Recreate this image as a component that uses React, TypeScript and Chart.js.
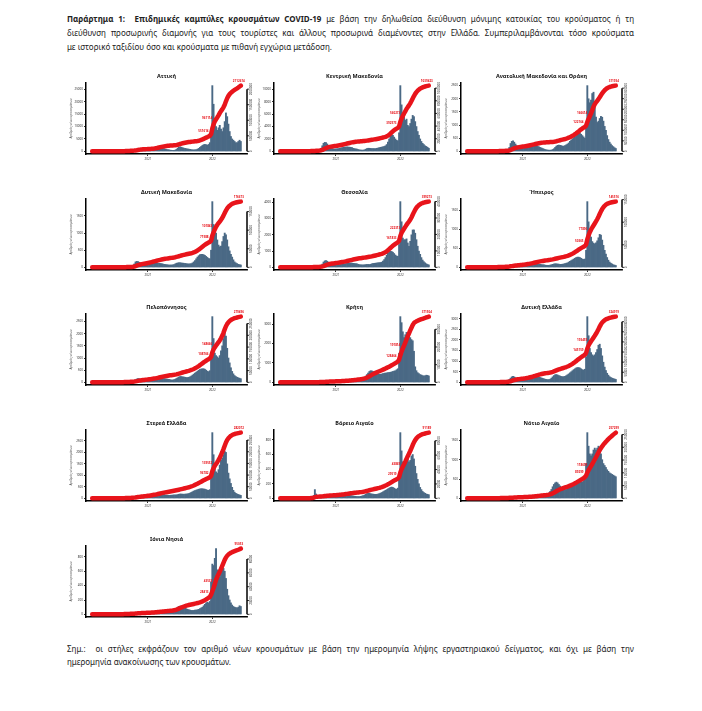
import React, { useEffect, useRef } from 'react';
import { Chart, registerables } from 'chart.js';
Chart.register(...registerables);

// weekly samples of daily new cases, first week = 2020-02-24 (index 0)
const yearTicks = [
  { week: 45, label: '2021' },
  { week: 97, label: '2022' },
];
const labelWeeks = [96, 99, 120];

const attiki = [
  0, 5, 20, 40, 50, 40, 30, 15, 10, 5,
  3, 3, 3, 5, 5, 5, 8, 10, 15, 20,
  30, 50, 80, 120, 150, 180, 200, 200, 220, 250,
  280, 300, 350, 400, 500, 700,
  900, 1100, 1000, 800, 600, 500, 450, 350, 300,
  300, 350, 400, 450, 550,
  700, 900, 1100, 1300, 1400,
  1500, 1400, 1300, 1100, 900,
  800, 700, 600, 500, 450,
  400, 400, 500, 800, 1300,
  1700, 1800, 1700, 1500, 1300,
  1200, 1100, 1000, 900, 800,
  700, 650, 600, 650, 700,
  900, 1200, 1600, 2000, 2400,
  2700, 2800, 2700, 2500, 2800, 3500, 7000,
  26500, 19000, 13000, 10000, 8500, 9500, 10500, 9000,
  8000, 9500, 12000, 15500, 14000, 11000,
  8000, 6000, 5000, 4500, 4000,
  3500, 3500, 4000, 4500, 4000,
];
const kentrikiMakedonia = [
  0, 2, 10, 25, 30, 25, 15, 10, 5, 5,
  3, 3, 3, 5, 5, 5, 8, 10, 15, 20,
  25, 40, 60, 80, 100, 110, 120, 120, 130, 150,
  180, 220, 300, 500, 900, 1300,
  1450, 1400, 1200, 900, 700, 550, 450, 400, 380,
  400, 420, 450, 500, 550,
  600, 650, 700, 700, 720,
  700, 680, 650, 600, 500,
  450, 400, 350, 300, 250,
  220, 200, 200, 250, 350,
  450, 500, 500, 480, 450,
  450, 450, 450, 500, 550,
  600, 650, 700, 750, 800,
  900, 1100, 1500, 2000, 2500,
  2700, 2600, 2300, 2000, 1800, 1700, 3000,
  10600, 7500, 5800, 5500, 5000, 5200, 4200, 4000,
  4500, 5200, 5800, 5600, 4800, 4000,
  3200, 2600, 2000, 1600, 1300,
  1100, 900, 800, 650, 500,
];
const anatolikiMakedoniaThraki = [
  0, 0, 2, 5, 5, 4, 3, 2, 1, 1,
  1, 1, 1, 1, 1, 2, 3, 4, 5, 8,
  10, 12, 15, 20, 25, 25, 25, 25, 30, 30,
  35, 40, 50, 80, 150, 300,
  380, 400, 350, 280, 220, 180, 150, 130, 120,
  120, 130, 140, 150, 160,
  170, 180, 190, 200, 200,
  210, 200, 190, 170, 150,
  130, 110, 90, 70, 60,
  50, 45, 45, 50, 70,
  100, 150, 200, 230, 240,
  230, 220, 200, 200, 220,
  250, 280, 320, 380, 430,
  480, 520, 560, 600, 650,
  680, 700, 650, 600, 550, 500, 900,
  2500, 2000, 1850, 1950, 2200, 2250, 1700, 1300,
  1100, 1150, 1250, 1330, 1300, 1150,
  950, 800, 600, 450, 350,
  280, 220, 180, 140, 110,
];
const dytikiMakedonia = [
  0, 0, 1, 2, 2, 2, 1, 1, 1, 0,
  0, 0, 0, 0, 0, 1, 1, 2, 2, 3,
  3, 4, 5, 6, 8, 10, 12, 14, 15, 15,
  18, 20, 30, 50, 100, 160,
  175, 170, 150, 130, 110, 100, 95, 90, 90,
  95, 100, 110, 120, 125,
  130, 130, 125, 125, 120,
  115, 110, 100, 90, 85,
  80, 75, 70, 70, 70,
  75, 80, 100, 120, 130,
  135, 135, 130, 125, 120,
  115, 110, 105, 100, 100,
  110, 130, 160, 200, 250,
  300, 340, 370, 380, 380,
  370, 350, 320, 290, 260, 250, 500,
  1915, 1250, 1100, 1000, 800, 650, 600, 620,
  750, 900, 1000, 950, 800, 600,
  480, 380, 300, 220, 160,
  130, 110, 90, 80, 70,
];
const thessalia = [
  0, 0, 3, 8, 10, 8, 5, 3, 2, 1,
  1, 1, 1, 1, 2, 2, 3, 4, 5, 6,
  8, 10, 15, 20, 25, 30, 30, 30, 35, 40,
  50, 60, 80, 120, 200, 330,
  400, 410, 380, 320, 250, 200, 170, 160, 150,
  150, 155, 160, 170, 180,
  190, 200, 210, 230, 250,
  260, 270, 270, 260, 250,
  240, 230, 210, 190, 170,
  160, 150, 150, 160, 170,
  180, 180, 175, 190, 220,
  240, 250, 260, 270, 280,
  290, 300, 320, 380, 480,
  600, 750, 880, 960, 990,
  980, 930, 850, 760, 700, 680, 1400,
  4040, 2800, 1800, 1700, 1700, 1750, 1500, 1300,
  1600, 2000, 2300, 2300, 2100, 1700,
  1300, 1000, 800, 600, 450,
  350, 280, 220, 180, 150,
];
const ipeiros = [
  0, 0, 2, 5, 6, 5, 3, 2, 1, 1,
  0, 0, 0, 0, 1, 1, 1, 2, 2, 3,
  4, 5, 6, 8, 10, 12, 12, 12, 14, 15,
  18, 20, 25, 35, 45, 55,
  60, 62, 58, 50, 45, 42, 40, 40, 42,
  45, 50, 55, 60, 65,
  70, 75, 80, 85, 90,
  95, 95, 90, 85, 80,
  75, 70, 65, 60, 55,
  55, 55, 60, 70, 80,
  90, 95, 95, 90, 85,
  80, 80, 85, 90, 100,
  110, 120, 140, 160, 180,
  200, 220, 240, 260, 270,
  270, 260, 240, 220, 210, 220, 450,
  1733, 1200, 1000, 800, 680, 640, 620, 650,
  700, 780, 870, 850, 720, 580,
  450, 350, 260, 190, 140,
  110, 90, 70, 60, 50,
];
const peloponnisos = [
  0, 1, 5, 8, 8, 6, 4, 3, 2, 1,
  1, 1, 1, 1, 1, 2, 3, 4, 5, 6,
  8, 10, 12, 15, 18, 20, 22, 22, 25, 28,
  30, 35, 45, 60, 80, 110,
  140, 160, 150, 130, 110, 100, 90, 90, 90,
  90, 95, 100, 110, 120,
  130, 140, 150, 160, 170,
  180, 180, 170, 160, 150,
  140, 130, 120, 110, 100,
  100, 110, 130, 160, 190,
  220, 240, 240, 230, 220,
  210, 200, 200, 210, 230,
  260, 300, 340, 380, 420,
  460, 500, 530, 550, 560,
  560, 540, 500, 460, 440, 480, 1000,
  2700, 1800, 1200, 1100, 1050, 1000, 1100, 1300,
  1500, 1800, 2100, 1900, 1400, 1000,
  800, 600, 450, 350, 280,
  240, 210, 190, 170, 150,
];
const kriti = [
  0, 0, 2, 5, 5, 3, 2, 1, 1, 0,
  0, 0, 0, 0, 0, 1, 1, 2, 3, 4,
  5, 6, 8, 10, 12, 14, 15, 15, 16, 18,
  20, 22, 25, 30, 40, 50,
  60, 65, 60, 55, 50, 45, 40, 38, 35,
  35, 38, 40, 45, 50,
  55, 60, 65, 70, 75,
  80, 85, 90, 95, 100,
  105, 110, 120, 130, 140,
  150, 170, 200, 250, 320,
  400, 480, 560, 600, 590,
  560, 520, 480, 450, 430,
  420, 420, 430, 450, 470,
  480, 490, 500, 510, 520,
  540, 560, 580, 600, 650, 700, 1500,
  3380, 3070, 2600, 2300, 2450, 2570, 2500, 2400,
  2300, 2200, 2140, 1600, 800, 600,
  500, 450, 400, 380, 350,
  330, 340, 370, 360, 330,
];
const dytikiEllada = [
  0, 1, 4, 8, 8, 6, 4, 2, 1, 1,
  0, 0, 0, 1, 1, 1, 2, 3, 4, 5,
  6, 8, 10, 14, 18, 22, 24, 25, 28, 30,
  35, 45, 60, 90, 140, 200,
  260, 280, 260, 220, 180, 150, 130, 120, 110,
  110, 120, 130, 150, 170,
  190, 210, 230, 250, 270,
  280, 280, 270, 250, 230,
  210, 190, 170, 150, 140,
  130, 130, 150, 200, 260,
  320, 360, 370, 350, 320,
  300, 280, 270, 270, 290,
  320, 360, 400, 450, 500,
  550, 600, 640, 680, 700,
  700, 680, 640, 600, 580, 620, 1200,
  3100, 2200, 1600, 1400, 1300, 1250, 1300, 1400,
  1550, 1750, 1800, 1600, 1250, 950,
  720, 560, 430, 340, 270,
  230, 200, 180, 160, 140,
];
const stereaEllada = [
  0, 1, 3, 6, 6, 5, 3, 2, 1, 1,
  0, 0, 0, 1, 1, 1, 2, 3, 4, 5,
  6, 8, 10, 12, 15, 18, 20, 20, 22, 25,
  30, 35, 45, 60, 80, 100,
  120, 130, 120, 105, 95, 90, 85, 85, 90,
  95, 100, 110, 120, 130,
  140, 150, 160, 170, 180,
  180, 175, 170, 160, 150,
  140, 135, 130, 135, 140,
  145, 150, 150, 155, 165,
  180, 190, 190, 185, 180,
  185, 190, 200, 210, 230,
  260, 290, 320, 340, 360,
  380, 400, 410, 420, 420,
  410, 400, 380, 360, 350, 380, 900,
  2860, 1900, 1350, 1150, 1100, 1250, 1450, 1650,
  1750, 1900, 2050, 2000, 1500, 1100,
  850, 650, 480, 350, 270,
  220, 190, 170, 150, 130,
];
const voreioAigaio = [
  0, 0, 1, 2, 2, 1, 1, 0, 0, 0,
  0, 0, 0, 0, 0, 0, 1, 1, 1, 2,
  3, 4, 5, 6, 10, 15, 20, 40, 120, 60,
  30, 20, 15, 15, 20, 25,
  30, 35, 30, 25, 20, 18, 16, 15, 15,
  16, 18, 20, 22, 25,
  28, 30, 32, 35, 38,
  40, 40, 38, 35, 32,
  30, 28, 26, 25, 25,
  28, 32, 38, 45, 55,
  65, 70, 70, 65, 60,
  58, 56, 55, 56, 60,
  65, 72, 80, 90, 100,
  110, 120, 130, 140, 150,
  155, 150, 140, 130, 125, 140, 300,
  900, 650, 500, 480, 520, 560, 540, 500,
  520, 580, 600, 540, 440, 340,
  260, 200, 150, 120, 95,
  80, 70, 60, 55, 50,
];
const notioAigaio = [
  0, 0, 2, 4, 4, 3, 2, 1, 1, 0,
  0, 0, 0, 0, 0, 1, 1, 2, 3, 4,
  6, 8, 12, 16, 20, 22, 20, 18, 16, 15,
  15, 16, 18, 22, 28, 35,
  45, 50, 48, 42, 36, 30, 28, 26, 25,
  25, 28, 30, 34, 38,
  42, 48, 55, 62, 70,
  75, 80, 82, 80, 76,
  72, 70, 70, 75, 90,
  110, 140, 180, 230, 300,
  360, 400, 420, 400, 360,
  320, 290, 260, 240, 230,
  230, 240, 260, 280, 300,
  320, 340, 360, 380, 400,
  410, 420, 420, 430, 460, 520, 900,
  1700, 1350, 1150, 1100, 1150, 1250, 1300, 1250,
  1300, 1350, 1300, 1150, 1000, 900,
  850, 800, 740, 700, 660,
  640, 620, 600, 580, 560,
];
const ioniaNisia = [
  0, 0, 1, 2, 2, 1, 1, 0, 0, 0,
  0, 0, 0, 0, 0, 0, 1, 1, 1, 2,
  3, 4, 5, 6, 8, 10, 10, 10, 10, 10,
  10, 10, 12, 14, 16, 18,
  20, 22, 20, 18, 16, 14, 12, 12, 12,
  12, 13, 14, 15, 16,
  18, 20, 22, 24, 26,
  28, 30, 30, 28, 26,
  24, 22, 22, 24, 28,
  35, 45, 60, 80, 100,
  110, 115, 115, 110, 100,
  90, 80, 70, 65, 60,
  55, 55, 55, 58, 60,
  65, 70, 80, 90, 100,
  120, 140, 160, 170, 160, 180, 450,
  700, 680, 780, 915, 620, 540, 520, 580,
  620, 640, 600, 500, 350, 260,
  200, 160, 130, 110, 100,
  95, 90, 100, 120, 110,
];

const regions = [
  { name: 'Αττική', daily: attiki },
  { name: 'Κεντρική Μακεδονία', daily: kentrikiMakedonia },
  { name: 'Ανατολική Μακεδονία και Θράκη', daily: anatolikiMakedoniaThraki },
  { name: 'Δυτική Μακεδονία', daily: dytikiMakedonia },
  { name: 'Θεσσαλία', daily: thessalia },
  { name: 'Ήπειρος', daily: ipeiros },
  { name: 'Πελοπόννησος', daily: peloponnisos },
  { name: 'Κρήτη', daily: kriti },
  { name: 'Δυτική Ελλάδα', daily: dytikiEllada },
  { name: 'Στερεά Ελλάδα', daily: stereaEllada },
  { name: 'Βόρειο Αιγαίο', daily: voreioAigaio },
  { name: 'Νότιο Αιγαίο', daily: notioAigaio },
  { name: 'Ιόνια Νησιά', daily: ioniaNisia },
];

const colLefts = [64, 252, 439];
const rowTops = [70, 186, 301, 417, 533];
const BLUE = '#4a6985';
const RED = '#e8141b';
const FONT = '"Noto Sans", "Liberation Sans", sans-serif';

function niceStep(max: number) {
  const raw = max / 5;
  const mag = Math.pow(10, Math.floor(Math.log10(raw)));
  const n = raw / mag;
  const m = n < 1.5 ? 1 : n < 3 ? 2 : n < 7 ? 5 : 10;
  return m * mag;
}
function stepTicks(max: number) {
  const step = niceStep(max);
  const out: { value: number }[] = [];
  for (let v = 0; v <= max + 1e-9; v += step) out.push({ value: v });
  return out;
}

const decorPlugin = {
  id: 'decor',
  afterDraw(chart: any, _args: any, opts: any) {
    const ctx = chart.ctx;
    const ca = chart.chartArea;
    ctx.save();
    // title
    ctx.fillStyle = '#111';
    ctx.font = `bold 5.5px ${FONT}`;
    ctx.textAlign = 'center';
    ctx.textBaseline = 'middle';
    ctx.fillText(opts.title, (ca.left + ca.right) / 2, 6);
    // right axis
    const y1 = chart.scales.y1;
    const ticks = y1.ticks;
    const x = ca.right;
    const yb = y1.getPixelForValue(0);
    const yt = y1.getPixelForValue(ticks[ticks.length - 1].value);
    ctx.strokeStyle = '#000';
    ctx.lineWidth = 1.5;
    ctx.beginPath();
    ctx.moveTo(x, yb);
    ctx.lineTo(x, yt);
    ctx.stroke();
    ctx.lineWidth = 0.8;
    ctx.font = `3px ${FONT}`;
    ctx.fillStyle = '#333';
    for (const t of ticks) {
      const py = y1.getPixelForValue(t.value);
      ctx.beginPath();
      ctx.moveTo(x, py);
      ctx.lineTo(x + 2, py);
      ctx.stroke();
      ctx.save();
      ctx.translate(x + 4.5, py);
      ctx.rotate(-Math.PI / 2);
      ctx.textAlign = 'center';
      ctx.textBaseline = 'middle';
      ctx.fillText(String(Math.round(t.value)), 0, 0);
      ctx.restore();
    }
    // red value labels
    const meta = chart.getDatasetMeta(0);
    const cum = chart.data.datasets[0].data;
    ctx.fillStyle = RED;
    ctx.font = `bold 3px ${FONT}`;
    labelWeeks.forEach((w, k) => {
      const pt = meta.data[w];
      if (!pt) return;
      const text = String(Math.round(cum[w].y));
      if (k === labelWeeks.length - 1) {
        ctx.textAlign = 'center';
        ctx.textBaseline = 'bottom';
        ctx.fillText(text, pt.x - 2, pt.y - 2.5);
      } else {
        ctx.textAlign = 'right';
        ctx.textBaseline = 'bottom';
        ctx.fillText(text, pt.x - 2.5, pt.y - 1.5);
      }
    });
    ctx.restore();
  },
};

function Panel({ name, daily, left, top }: { name: string; daily: number[]; left: number; top: number }) {
  const ref = useRef<HTMLCanvasElement | null>(null);
  useEffect(() => {
    if (!ref.current) return;
    const cum: number[] = [];
    let s = 0;
    for (const v of daily) {
      s += v * 7;
      cum.push(s);
    }
    const maxBar = Math.max(...daily);
    const final = cum[cum.length - 1];
    const chart = new Chart(ref.current, {
      type: 'bar',
      data: {
        datasets: [
          {
            type: 'line',
            data: cum.map((v, i) => ({ x: i, y: v })),
            yAxisID: 'y1',
            borderColor: RED,
            borderWidth: 4.5,
            pointRadius: 0,
            tension: 0,
            borderCapStyle: 'round',
            borderJoinStyle: 'round',
            order: 0,
          } as any,
          {
            type: 'bar',
            data: daily.map((v, i) => ({ x: i, y: v })),
            yAxisID: 'y',
            backgroundColor: BLUE,
            borderWidth: 0,
            barPercentage: 1,
            categoryPercentage: 1,
            order: 1,
          } as any,
        ],
      },
      options: {
        animation: false,
        responsive: false,
        maintainAspectRatio: false,
        layout: { padding: { top: 13, left: 0, right: 0, bottom: 0 } },
        plugins: {
          legend: { display: false },
          tooltip: { enabled: false },
          decor: { title: name },
        } as any,
        scales: {
          x: {
            type: 'linear',
            min: -5,
            max: 125,
            offset: false,
            afterBuildTicks: (sc: any) => {
              sc.ticks = yearTicks.map((t) => ({ value: t.week }));
            },
            ticks: {
              autoSkip: false,
              maxRotation: 0,
              minRotation: 0,
              padding: 1,
              color: '#333',
              font: { size: 3, family: FONT },
              callback: (v: any) => {
                const t = yearTicks.find((yt) => yt.week === v);
                return t ? t.label : '';
              },
            },
            grid: { display: true, drawOnChartArea: false, drawTicks: true, tickLength: 2, color: '#000', lineWidth: 0.8, offset: false },
            border: { display: true, color: '#000', width: 1.5 },
            afterFit: (sc: any) => {
              sc.height = 16;
            },
          },
          y: {
            position: 'left',
            min: -maxBar * 0.04,
            max: maxBar * 1.04,
            afterBuildTicks: (sc: any) => {
              sc.ticks = stepTicks(sc.max);
            },
            ticks: {
              padding: 1,
              color: '#333',
              font: { size: 3, family: FONT },
              callback: (v: any) => String(Math.round(v)),
            },
            grid: { display: true, drawOnChartArea: false, drawTicks: true, tickLength: 2, color: '#000', lineWidth: 0.8 },
            border: { display: true, color: '#000', width: 1.5 },
            title: {
              display: true,
              text: 'Αριθμός νέων κρουσμάτων',
              color: '#555',
              font: { size: 3.2, family: FONT },
              padding: { top: 5, bottom: 0 },
            },
            afterFit: (sc: any) => {
              sc.width = 22;
            },
          },
          y1: {
            position: 'right',
            min: -final * 0.04,
            max: final * 1.04,
            afterBuildTicks: (sc: any) => {
              sc.ticks = stepTicks(sc.max);
            },
            ticks: { display: false },
            grid: { display: false },
            border: { display: false },
            afterFit: (sc: any) => {
              sc.width = 17;
            },
          },
        },
      } as any,
      plugins: [decorPlugin as any],
    });
    return () => chart.destroy();
  }, [daily, name]);
  return (
    <canvas
      ref={ref}
      width={200}
      height={100}
      style={{ position: 'absolute', left, top, width: 200, height: 100 }}
    />
  );
}

const textStyle: React.CSSProperties = {
  position: 'absolute',
  left: 67,
  width: 567,
  fontFamily: FONT,
  fontSize: 8,
  color: '#222',
  whiteSpace: 'nowrap',
};
const justified: React.CSSProperties = {
  whiteSpace: 'normal',
  textAlign: 'justify',
  textAlignLast: 'justify',
};

export default function App() {
  return (
    <div style={{ position: 'absolute', left: 0, top: 0, width: 702, height: 711, background: '#fff', overflow: 'hidden' }}>
      <div style={{ ...textStyle, ...justified, top: 12, lineHeight: '14px' }}>
        <b>Παράρτημα 1:&nbsp; Επιδημικές καμπύλες κρουσμάτων COVID-19</b> με βάση την δηλωθείσα διεύθυνση μόνιμης κατοικίας του κρούσματος ή τη
      </div>
      <div style={{ ...textStyle, ...justified, top: 26, lineHeight: '14px' }}>
        διεύθυνση προσωρινής διαμονής για τους τουρίστες και άλλους προσωρινά διαμένοντες στην Ελλάδα. Συμπεριλαμβάνονται τόσο κρούσματα
      </div>
      <div style={{ ...textStyle, top: 40, lineHeight: '14px' }}>
        με ιστορικό ταξιδίου όσο και κρούσματα με πιθανή εγχώρια μετάδοση.
      </div>
      {regions.map((r, i) => (
        <Panel key={r.name} name={r.name} daily={r.daily} left={colLefts[i % 3]} top={rowTops[Math.floor(i / 3)]} />
      ))}
      <div style={{ ...textStyle, ...justified, top: 642, lineHeight: '13px' }}>
        Σημ.:&nbsp; οι στήλες εκφράζουν τον αριθμό νέων κρουσμάτων με βάση την ημερομηνία λήψης εργαστηριακού δείγματος, και όχι με βάση την
      </div>
      <div style={{ ...textStyle, top: 655, lineHeight: '13px' }}>
        ημερομηνία ανακοίνωσης των κρουσμάτων.
      </div>
    </div>
  );
}
